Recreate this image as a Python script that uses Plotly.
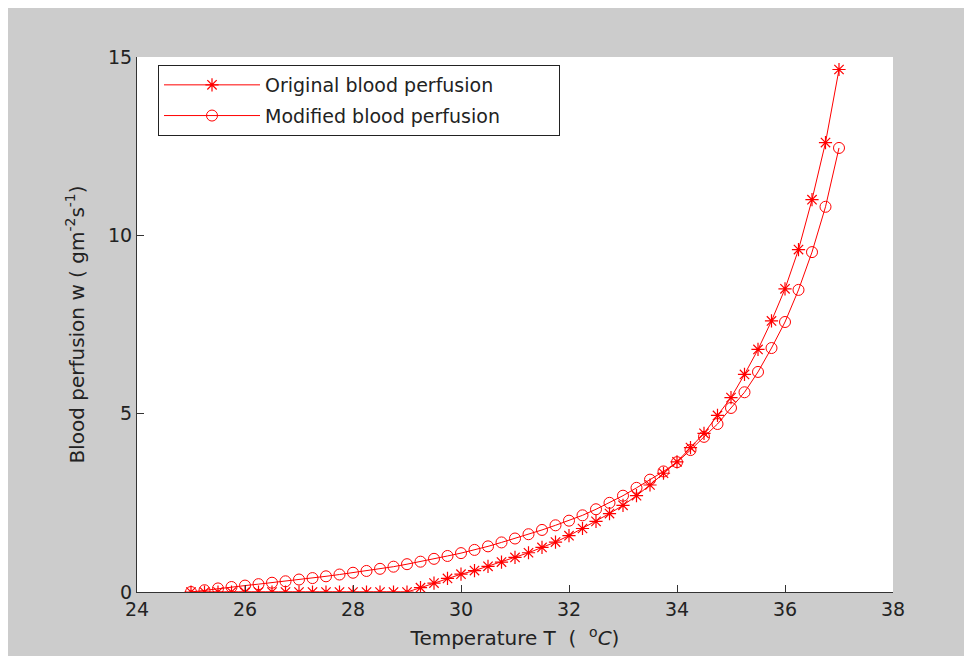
import plotly.graph_objects as go

temperature = [25 + 0.25 * i for i in range(49)]

original = [0.0] * 17 + [
    0.12, 0.25, 0.38, 0.5, 0.6, 0.72, 0.84, 0.97, 1.1, 1.25, 1.4, 1.58,
    1.78, 1.98, 2.2, 2.43, 2.7, 3.0, 3.33, 3.65, 4.05, 4.45, 4.95, 5.45,
    6.1, 6.8, 7.6, 8.5, 9.6, 11.0, 12.6, 14.65,
]

modified = [
    0.0, 0.05, 0.1, 0.14, 0.18, 0.22, 0.26, 0.3, 0.35, 0.39, 0.44, 0.49,
    0.54, 0.59, 0.65, 0.71, 0.78, 0.85, 0.93, 1.01, 1.09, 1.18, 1.28, 1.39,
    1.5, 1.62, 1.74, 1.87, 2.0, 2.15, 2.32, 2.5, 2.7, 2.92, 3.15, 3.38,
    3.64, 3.98, 4.35, 4.71, 5.16, 5.6, 6.17, 6.84, 7.57, 8.47, 9.53, 10.8,
    12.45,
]

x_ticks = [24, 26, 28, 30, 32, 34, 36, 38]
y_ticks = [0, 5, 10, 15]

FONT = "DejaVu Sans, Arial, sans-serif"
PAD = "\u00a0" * 10

fig = go.Figure()
fig.add_trace(go.Scatter(
    x=temperature, y=original, mode="lines+markers",
    name="Original blood perfusion" + PAD, legendgroup="a",
    line=dict(color="#ff0000", width=1),
    marker=dict(symbol="asterisk-open", size=11, color="#ff0000",
                line=dict(color="#ff0000", width=1.2)),
))
fig.add_trace(go.Scatter(
    x=temperature, y=modified, mode="lines+markers",
    name="Modified blood perfusion", legendgroup="b",
    line=dict(color="#ff0000", width=1),
    marker=dict(symbol="circle-open", size=11, color="#ff0000",
                line=dict(color="#ff0000", width=1)),
))

# the page has an 8px body margin; figure coords = screen coords - 8
OFF = 8
W, H = 972 - OFF, 656 - OFF
L, R, T, B = 137 - OFF, W - (893 - OFF), 57 - OFF, H - (592 - OFF)
pw, ph = W - L - R, H - T - B

def px_x(p):
    return (p - OFF - L) / pw

def px_y(p):
    return (H - B - (p - OFF)) / ph

fig.update_layout(
    width=W, height=H,
    margin=dict(l=L, r=R, t=T, b=B),
    paper_bgcolor="#cccccc",
    plot_bgcolor="white",
    font=dict(family=FONT, size=18, color="#222222"),
    showlegend=True,
    legend=dict(
        x=px_x(158), y=px_y(65), xanchor="left", yanchor="top",
        bgcolor="white", bordercolor="#222222", borderwidth=1,
        font=dict(family=FONT, size=19, color="#222222"),
        itemwidth=96, tracegroupgap=3, traceorder="grouped",
    ),
)
fig.update_xaxes(
    range=[24, 38], tickvals=x_ticks, ticks="inside", ticklen=7,
    tickcolor="#333333", showline=True, linecolor="#333333", linewidth=1,
    showgrid=False, zeroline=False, mirror=False, automargin=False,
    tickfont=dict(size=19),
    title=dict(text="Temperature T  (  <sup>o</sup><i>C</i>)", standoff=12,
               font=dict(size=20)),
)
fig.update_yaxes(
    range=[0, 15], tickvals=y_ticks, ticks="inside", ticklen=7,
    tickcolor="#333333", showline=True, linecolor="#333333", linewidth=1,
    showgrid=False, zeroline=False, mirror=False, automargin=False,
    tickfont=dict(size=19),
    title=dict(text="Blood perfusion w ( gm<sup>-2</sup>s<sup>-1</sup>)",
               standoff=18, font=dict(size=20)),
)

fig.write_html("out.html")
